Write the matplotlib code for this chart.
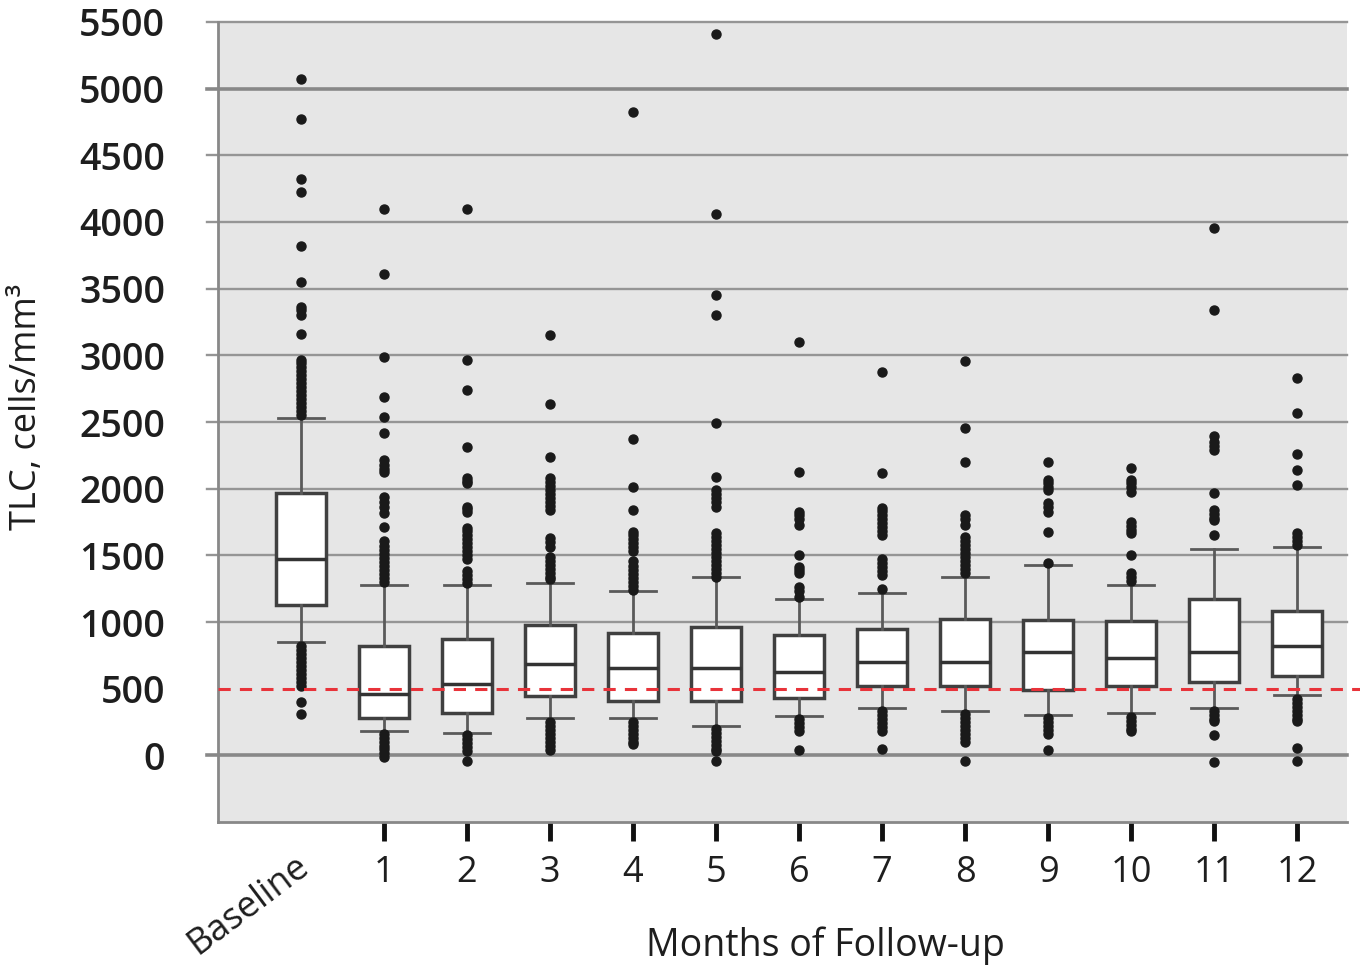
import matplotlib
matplotlib.use("Agg")
import matplotlib.pyplot as plt
from matplotlib import transforms

plt.rcParams['font.family'] = ['Open Sans', 'DejaVu Sans']

# box statistics (cells/mm3)
labels = ["Baseline", "1", "2", "3", "4", "5", "6", "7", "8", "9", "10", "11", "12"]
q1 = [1130, 277, 315, 442, 405, 405, 427, 524, 517, 494, 524, 547, 592]
med = [1469, 457, 532, 689, 659, 659, 629, 704, 704, 772, 734, 779, 824]
q3 = [1965, 824, 869, 974, 914, 959, 899, 944, 1019, 1012, 1004, 1169, 1079]
whislo = [847, 180, 165, 277, 277, 217, 292, 352, 330, 300, 315, 352, 450]
whishi = [2533, 1274, 1274, 1296, 1229, 1334, 1176, 1221, 1341, 1431, 1274, 1551, 1559]

fliers = [
    [5073, 4773, 4323, 4226, 3822, 3552, 3365, 3342, 3305, 3162, 2967, 2940, 2910,
     2880, 2850, 2820, 2790, 2760, 2730, 2700, 2670, 2640, 2610, 2580, 2550,
     820, 790, 760, 730, 700, 670, 640, 610, 580, 550, 520, 397, 307],
    [4099, 3612, 2990, 2690, 2540, 2420, 2218, 2180, 2150, 2128, 1941, 1900, 1860,
     1821, 1716, 1604, 1570, 1540, 1510, 1480, 1450, 1420, 1390, 1360, 1330, 1300,
     160, 130, 100, 70, 45, 20, -10],
    [4099, 2967, 2742, 2315, 2083, 2060, 2046, 1866, 1845, 1828, 1708, 1680, 1650,
     1620, 1590, 1560, 1530, 1500, 1469, 1379, 1350, 1320, 1290,
     150, 120, 90, 60, 30, -45],
    [3155, 2637, 2240, 2083, 2050, 2020, 1990, 1960, 1930, 1900, 1870, 1843, 1633,
     1600, 1566, 1491, 1460, 1430, 1400, 1370, 1340, 1319,
     250, 220, 190, 160, 130, 100, 70, 40],
    [4826, 2375, 2016, 1843, 1678, 1650, 1620, 1590, 1560, 1529, 1454, 1420, 1390,
     1360, 1330, 1300, 1270, 1240,
     250, 220, 190, 160, 130, 100, 82],
    [5410, 4061, 3454, 3305, 2495, 2091, 1993, 1960, 1930, 1900, 1866, 1671, 1640,
     1610, 1580, 1550, 1520, 1490, 1460, 1430, 1400, 1370, 1341,
     200, 170, 140, 110, 80, 50, 30, -45],
    [3102, 2128, 1828, 1800, 1770, 1731, 1499, 1416, 1390, 1371, 1266, 1230, 1191,
     270, 240, 210, 180, 37],
    [2877, 2121, 1858, 1830, 1800, 1770, 1740, 1710, 1680, 1656, 1476, 1440, 1410,
     1380, 1356, 1244,
     330, 300, 270, 240, 210, 180, 45],
    [2959, 2458, 2203, 1806, 1770, 1731, 1641, 1610, 1580, 1550, 1520, 1490, 1460,
     1430, 1400, 1370,
     310, 280, 250, 220, 190, 160, 130, 97, -45],
    [2203, 2068, 2040, 2010, 1993, 1896, 1860, 1828, 1678, 1439,
     280, 250, 220, 190, 157, 37],
    [2158, 2068, 2040, 2010, 1978, 1753, 1720, 1690, 1671, 1499, 1371, 1340, 1304,
     290, 260, 230, 200, 180],
    [3956, 3342, 2398, 2350, 2320, 2293, 1971, 1843, 1810, 1780, 1768, 1656,
     330, 300, 270, 255, 150, -52],
    [2832, 2570, 2263, 2143, 2031, 1671, 1640, 1610, 1581,
     420, 390, 360, 330, 300, 270, 255, 52, -45],
]

y_ticks = [0, 500, 1000, 1500, 2000, 2500, 3000, 3500, 4000, 4500, 5000, 5500]
cutoff = 500

stats = []
for i in range(len(labels)):
    stats.append(dict(label=labels[i], q1=q1[i], med=med[i], q3=q3[i],
                      whislo=whislo[i], whishi=whishi[i], fliers=fliers[i]))

fig = plt.figure(figsize=(13.6, 9.77), dpi=100)
ax = fig.add_axes([0.1603, 0.1586, 0.8301, 0.8189])
ax.set_facecolor("#e6e6e6")

# horizontal grid, drawn by hand so they poke out left of the axis
for v in y_ticks:
    if v == cutoff:
        continue
    lw = 2.6 if v in (0, 5000) else 1.7
    col = "#888888" if v in (0, 5000) else "#959595"
    ax.axhline(v, xmin=-0.01, xmax=1, color=col, lw=lw, zorder=1, clip_on=False)

ax.axhline(cutoff, xmin=0, xmax=1.012, color="#e8333a", lw=2.2, ls=(0, (4, 3)),
           zorder=4, clip_on=False)

ax.bxp(stats, positions=range(len(labels)), widths=0.6, capwidths=0.55,
       patch_artist=True, showfliers=True,
       boxprops=dict(facecolor="white", edgecolor="#404040", linewidth=2.5),
       medianprops=dict(color="#333333", linewidth=2.5),
       whiskerprops=dict(color="#5a5a5a", linewidth=2),
       capprops=dict(color="#5a5a5a", linewidth=2),
       flierprops=dict(marker="o", markerfacecolor="#1a1a1a",
                       markeredgecolor="#1a1a1a", markersize=6.5))

ax.set_xlim(-1, 12.6)
ax.set_ylim(-500, 5500)

for s in ["top", "right"]:
    ax.spines[s].set_visible(False)
for s in ["left", "bottom"]:
    ax.spines[s].set_color("#888888")
    ax.spines[s].set_linewidth(2)

ax.set_yticks(y_ticks)
ax.set_yticklabels([str(v) for v in y_ticks], fontsize=27, color="#1e1e1e",
                   fontweight="semibold")
ax.tick_params(axis="y", length=0, pad=38)

ax.set_xticks(range(1, len(labels)))
ax.set_xticklabels(labels[1:], fontsize=26, color="#1e1e1e")
ax.tick_params(axis="x", length=14, width=3.5, color="#111111", pad=10)

trans = transforms.blended_transform_factory(ax.transData, ax.transAxes)
ax.text(0.05, -0.05, labels[0], transform=trans, fontsize=26, color="#1e1e1e",
        rotation=37, rotation_mode="anchor", ha="right", va="center")

ax.set_xlabel("Months of Follow-up", fontsize=27, color="#1e1e1e")
ax.xaxis.set_label_coords(0.538, -0.13)
ax.set_ylabel("TLC, cells/mm³", fontsize=26, color="#1e1e1e")
ax.yaxis.set_label_coords(-0.153, 0.519)

fig.savefig("out.png", dpi=100)
